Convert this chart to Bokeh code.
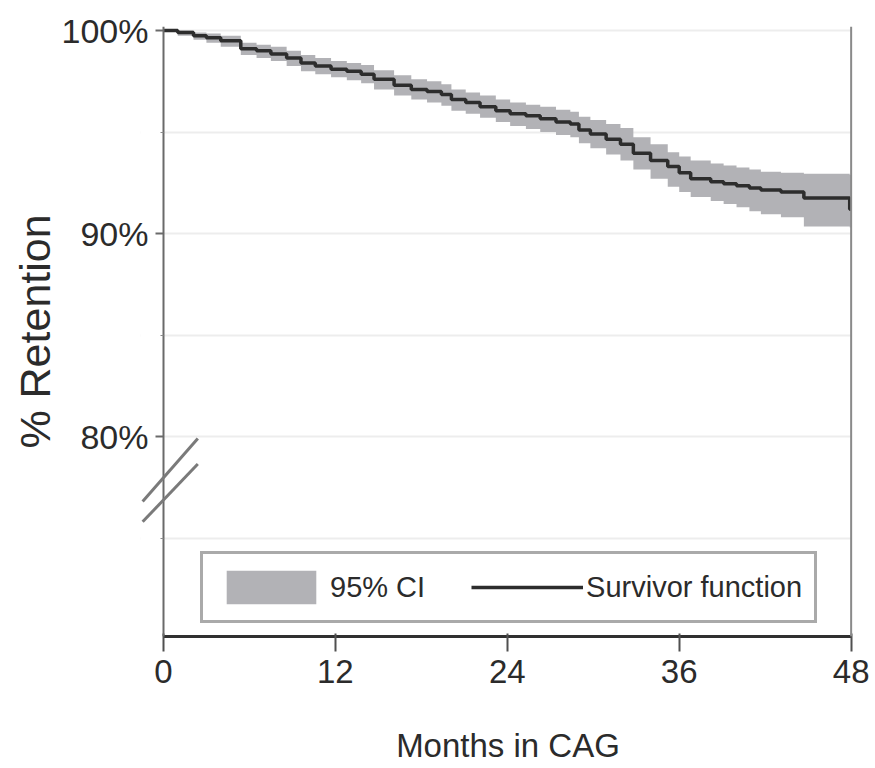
from bokeh.plotting import figure
from bokeh.models import (FixedTicker, PrintfTickFormatter, LinearAxis, Legend,
                          LegendItem, Range1d, Arrow, ColumnDataSource,
                          BoxAnnotation, Span, CustomJSTickFormatter)
from bokeh.embed import file_html
from bokeh.resources import INLINE

# Kaplan-Meier retention estimate (months in CAG vs % retained) with 95% CI
months = [0, 1.0, 2.1, 3.0, 4.0, 5.4, 6.5, 7.5, 8.6, 9.6, 10.6, 11.7, 12.8, 13.8,
          14.7, 16.1, 17.3, 18.4, 19.4, 20.1, 21.1, 22.1, 23.2, 24.2, 25.3, 26.3,
          27.4, 28.4, 29.0, 29.8, 30.9, 31.9, 32.8, 34.0, 35.2, 36.0, 36.8, 38.2,
          39.1, 40.0, 40.9, 41.7, 43.1, 44.7, 47.9, 48.0]
survival = [100.0, 99.9, 99.75, 99.65, 99.5, 99.1, 99.0, 98.85, 98.65, 98.4, 98.25,
            98.1, 98.0, 97.85, 97.6, 97.3, 97.1, 97.0, 96.85, 96.6, 96.45, 96.25,
            96.05, 95.9, 95.8, 95.65, 95.5, 95.4, 95.1, 94.9, 94.65, 94.4, 93.95,
            93.6, 93.3, 93.0, 92.7, 92.55, 92.45, 92.35, 92.25, 92.15, 92.05, 91.75,
            91.2, 91.2]
ci_upper = [100.0, 100.0, 99.9, 99.85, 99.75, 99.4, 99.3, 99.2, 99.0, 98.8, 98.65,
            98.5, 98.4, 98.3, 98.05, 97.8, 97.6, 97.5, 97.35, 97.1, 96.95, 96.8,
            96.6, 96.45, 96.35, 96.25, 96.1, 96.0, 95.75, 95.6, 95.4, 95.2, 94.75,
            94.4, 94.0, 93.8, 93.6, 93.45, 93.35, 93.25, 93.15, 93.05, 93.0, 92.95,
            92.9, 92.9]
ci_lower = [100.0, 99.75, 99.55, 99.4, 99.2, 98.8, 98.65, 98.5, 98.25, 98.0, 97.85,
            97.7, 97.55, 97.4, 97.1, 96.8, 96.6, 96.45, 96.3, 96.05, 95.9, 95.7,
            95.5, 95.3, 95.15, 95.0, 94.85, 94.75, 94.45, 94.2, 93.9, 93.6, 93.15,
            92.7, 92.3, 92.05, 91.8, 91.6, 91.45, 91.3, 91.1, 90.95, 90.8, 90.35,
            90.3, 90.3]

x_ticks = [0, 12, 24, 36, 48]
y_ticks = [80, 90, 100]
y_minor_ticks = [75, 85, 95]
x_start, x_end = 0, 48

FONT = "Liberation Sans"
TEXT = "#2b2b2b"

src = ColumnDataSource(dict(m=months, s=survival, lo=ci_lower, hi=ci_upper))

# the frame runs a little past both ends of the time axis so the axis-break
# marks can straddle the y axis line drawn at month 0
p = figure(width=875, height=768, output_backend="svg", toolbar_location=None,
           x_range=Range1d(-1.6, 49.7), y_range=Range1d(70.15, 100.2),
           min_border_left=140, min_border_right=0, min_border_top=26,
           min_border_bottom=132, frame_width=735, frame_height=610,
           outline_line_color=None, background_fill_color="white")

# grid
p.xgrid.grid_line_color = None
p.ygrid.grid_line_color = "#ededed"
p.ygrid.grid_line_width = 2
p.ygrid.minor_grid_line_color = "#ededed"
p.ygrid.minor_grid_line_width = 2
# keep the grid between month 0 and month 48 only
p.add_layout(BoxAnnotation(right=x_start, fill_color="white", fill_alpha=1,
                           line_color=None, level="underlay"))
p.add_layout(BoxAnnotation(left=x_end, fill_color="white", fill_alpha=1,
                           line_color=None, level="underlay"))

band = p.varea_step(x="m", y1="lo", y2="hi", step_mode="after", source=src,
                    fill_color="#b2b2b6")
curve = p.step(x="m", y="s", mode="after", source=src, line_color="#2d2d2d",
               line_width=3.5)

# x axis
p.xaxis.ticker = FixedTicker(ticks=x_ticks)
p.xaxis.bounds = (x_start, x_end)
p.xaxis.axis_label = "Months in CAG"
p.xaxis.axis_line_color = "#303030"
p.xaxis.axis_line_width = 3
p.xaxis.major_tick_line_color = "#505050"
p.xaxis.major_tick_line_width = 2
p.xaxis.major_tick_in = 3
p.xaxis.major_tick_out = 15
p.xaxis.minor_tick_line_color = None
p.xaxis.major_label_standoff = 8
p.xaxis.axis_label_standoff = 41

# y axis: labels on the plot's left side, line and ticks pinned at month 0
p.yaxis.ticker = FixedTicker(ticks=y_ticks, minor_ticks=y_minor_ticks)
p.yaxis.formatter = PrintfTickFormatter(format="%d%%")
p.yaxis.axis_label = "% Retention"
p.yaxis.axis_line_color = None
p.yaxis.major_tick_line_color = None
p.yaxis.minor_tick_line_color = None
p.yaxis.major_label_standoff = -14
p.yaxis.axis_label_standoff = 0

for ax in (p.xaxis[0], p.yaxis[0]):
    ax.major_label_text_font = FONT
    ax.major_label_text_font_size = "33px"
    ax.major_label_text_color = TEXT
    ax.axis_label_text_font = FONT
    ax.axis_label_text_font_size = "33px"
    ax.axis_label_text_font_style = "normal"
    ax.axis_label_text_color = TEXT
p.yaxis.major_label_text_font_size = "34px"
p.yaxis.axis_label_text_font_size = "43px"

y_line = LinearAxis(fixed_location=x_start,
                    ticker=FixedTicker(ticks=y_ticks, minor_ticks=y_minor_ticks),
                    formatter=CustomJSTickFormatter(code="return ''"),
                    axis_line_color="#6a6a6a", axis_line_width=2,
                    major_tick_line_color="#6a6a6a", major_tick_line_width=2,
                    major_tick_in=0, major_tick_out=8,
                    minor_tick_line_color="#8a8a8a", minor_tick_in=0,
                    minor_tick_out=3)
p.add_layout(y_line, "left")

# right-hand frame edge at month 48
p.add_layout(Span(location=x_end, dimension="height", line_color="#8a8a8a",
                  line_width=2))

# axis break marks
for y0, y1 in ((76.8, 79.9), (75.8, 78.65)):
    p.add_layout(Arrow(x_start=-1.45, y_start=y0, x_end=2.4, y_end=y1,
                       start=None, end=None, line_color="#7a7a7a", line_width=3))

legend = Legend(items=[LegendItem(label="95% CI", renderers=[band]),
                       LegendItem(label="Survivor function", renderers=[curve])],
                orientation="horizontal", location=(60, 13),
                glyph_width=112, glyph_height=42, label_standoff=3, spacing=46,
                padding=12, margin=0,
                label_text_font=FONT, label_text_font_size="29px",
                label_text_color=TEXT, border_line_color="#555555",
                border_line_width=3, background_fill_alpha=1)
p.add_layout(legend)

open("out.html", "w").write(file_html(p, INLINE))
